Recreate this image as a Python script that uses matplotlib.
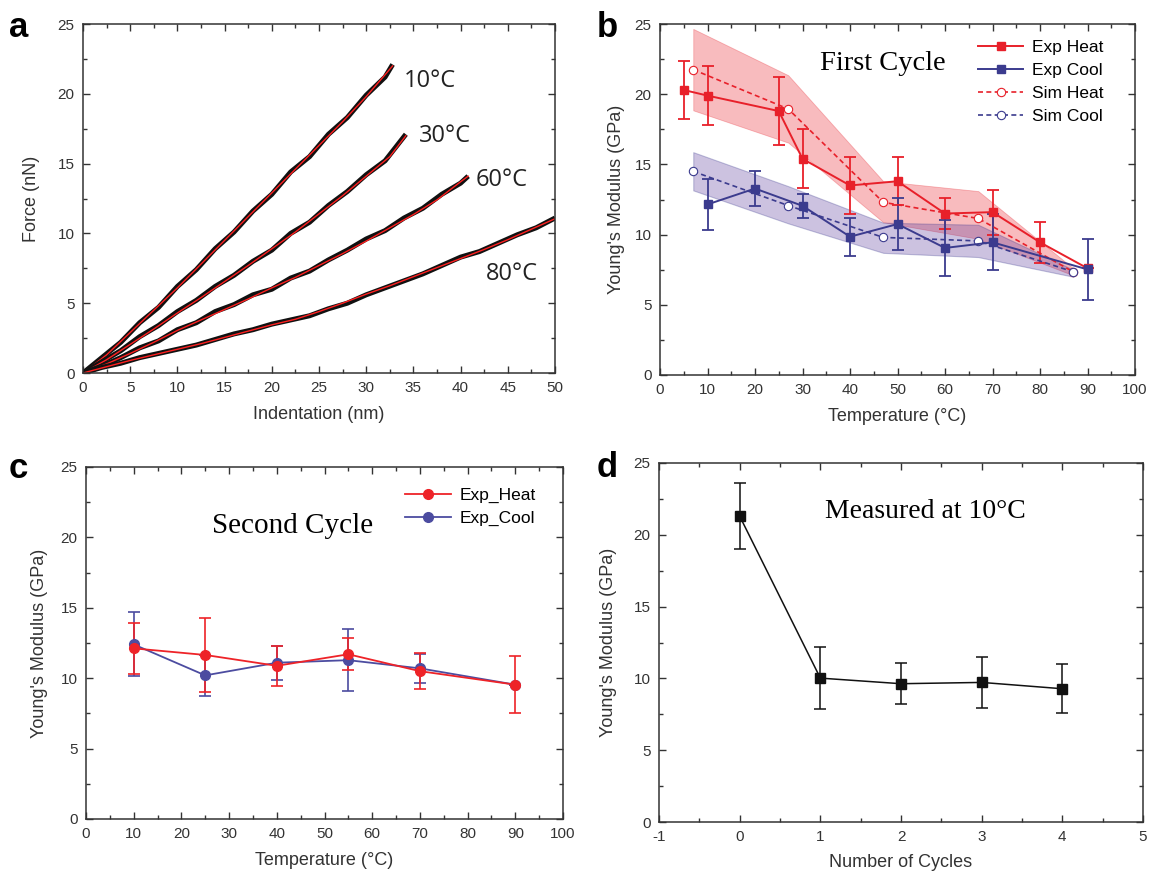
import numpy as np
import matplotlib
matplotlib.use('Agg')
import matplotlib.pyplot as plt
from matplotlib.ticker import MultipleLocator
from matplotlib.lines import Line2D

plt.rcParams['font.family'] = ['Liberation Sans', 'DejaVu Sans']
plt.rcParams['axes.unicode_minus'] = False

# ---- panel a: force curves (indentation nm, force nN) ----
x10_data = [0, 2, 4, 6, 8, 10, 12, 14, 16, 18, 20, 22, 24, 26, 28, 30, 32, 32.8]
f10_data = [0, 1.1, 2.2, 3.6, 4.7, 6.2, 7.4, 8.9, 10.1, 11.6, 12.8, 14.4, 15.5, 17.1, 18.3, 19.9, 21.2, 22.1]
x10_fit = [0, 2.5, 5, 7.5, 10, 12.5, 15, 17.5, 20, 22.5, 25, 27.5, 30, 32.8]
f10_fit = [0, 1.3, 2.9, 4.5, 6.1, 7.8, 9.5, 11.2, 12.9, 14.6, 16.3, 18.0, 19.8, 22.0]

x30_data = [0, 2, 4, 6, 8, 10, 12, 14, 16, 18, 20, 22, 24, 26, 28, 30, 32, 34.2]
f30_data = [0, 0.8, 1.6, 2.6, 3.4, 4.4, 5.2, 6.2, 7.0, 8.0, 8.8, 10.0, 10.8, 12.0, 13.0, 14.2, 15.2, 17.1]
x30_fit = [0, 2.5, 5, 7.5, 10, 12.5, 15, 17.5, 20, 22.5, 25, 27.5, 30, 32.5, 34.2]
f30_fit = [0, 0.95, 2.05, 3.15, 4.3, 5.4, 6.55, 7.7, 8.9, 10.1, 11.4, 12.7, 14.1, 15.5, 17.0]

x60_data = [0, 2, 4, 6, 8, 10, 12, 14, 16, 18, 20, 22, 24, 26, 28, 30, 32, 34, 36, 38, 40, 40.8]
f60_data = [0, 0.5, 1.1, 1.8, 2.3, 3.1, 3.6, 4.4, 4.9, 5.6, 6.0, 6.8, 7.3, 8.1, 8.8, 9.6, 10.2, 11.1, 11.8, 12.8, 13.6, 14.1]
x60_fit = [0, 2.5, 5, 7.5, 10, 12.5, 15, 17.5, 20, 22.5, 25, 27.5, 30, 32.5, 35, 37.5, 40, 40.8]
f60_fit = [0, 0.65, 1.4, 2.2, 3.05, 3.8, 4.55, 5.3, 6.1, 6.85, 7.7, 8.55, 9.45, 10.4, 11.35, 12.4, 13.7, 14.1]

x80_data = [0, 2, 4, 6, 8, 10, 12, 14, 16, 18, 20, 22, 24, 26, 28, 30, 32, 34, 36, 38, 40, 42, 44, 46, 48, 50]
f80_data = [0, 0.4, 0.7, 1.1, 1.4, 1.7, 2.0, 2.4, 2.8, 3.1, 3.5, 3.8, 4.1, 4.6, 5.0, 5.6, 6.1, 6.6, 7.1, 7.7, 8.3, 8.7, 9.3, 9.9, 10.4, 11.1]
x80_fit = [0, 2.5, 5, 7.5, 10, 12.5, 15, 17.5, 20, 22.5, 25, 27.5, 30, 32.5, 35, 37.5, 40, 42.5, 45, 47.5, 50]
f80_fit = [0, 0.45, 0.9, 1.3, 1.7, 2.1, 2.55, 3.0, 3.45, 3.85, 4.4, 5.0, 5.65, 6.25, 6.9, 7.55, 8.2, 8.85, 9.55, 10.3, 11.05]

curve_labels = ['10°C', '30°C', '60°C', '80°C']

# ---- panel b: first cycle ----
exp_heat_T = [5, 10, 25, 30, 40, 50, 60, 70, 80, 90]
exp_heat_E = [20.3, 19.9, 18.8, 15.4, 13.5, 13.8, 11.5, 11.6, 9.45, 7.6]
exp_heat_err = [2.1, 2.1, 2.45, 2.1, 2.0, 1.7, 1.1, 1.6, 1.45, 0]
exp_cool_T = [10, 20, 30, 40, 50, 60, 70, 90]
exp_cool_E = [12.15, 13.28, 12.05, 9.85, 10.75, 9.05, 9.45, 7.52]
exp_cool_err = [1.8, 1.22, 0.85, 1.35, 1.85, 1.98, 2.0, 2.17]
sim_T = [7, 27, 47, 67, 87]
sim_heat_E = [21.75, 18.95, 12.3, 11.15, 7.35]
sim_heat_hi = [24.65, 21.35, 13.8, 13.1, 7.6]
sim_heat_lo = [18.85, 16.55, 10.88, 9.7, 7.1]
sim_cool_E = [14.5, 12.07, 9.8, 9.55, 7.35]
sim_cool_hi = [15.87, 13.45, 10.85, 10.7, 7.5]
sim_cool_lo = [13.15, 10.8, 8.7, 8.4, 7.0]

# ---- panel c: second cycle ----
c_T = [10, 25, 40, 55, 70, 90]
c_heat_E = [12.12, 11.65, 10.88, 11.7, 10.5, 9.54]
c_heat_err = [1.8, 2.6, 1.4, 1.15, 1.3, 2.03]
c_cool_E = [12.4, 10.2, 11.1, 11.28, 10.7, 9.54]
c_cool_err = [2.27, 1.45, 1.2, 2.22, 1.03, 0]

# ---- panel d: cycles at 10C ----
cycles = [0, 1, 2, 3, 4]
d_E = [21.3, 10.02, 9.63, 9.72, 9.28]
d_err = [2.28, 2.15, 1.44, 1.8, 1.7]

RED = '#e8202a'
NAVY = '#3b3b8e'
W, H = 1149, 877


def rect(l, r, t, b):
    return [l / W, 1 - b / H, (r - l) / W, (b - t) / H]


def style_axes(ax, xmaj, xmin, ymaj, ymin):
    ax.xaxis.set_major_locator(MultipleLocator(xmaj))
    ax.xaxis.set_minor_locator(MultipleLocator(xmin))
    ax.yaxis.set_major_locator(MultipleLocator(ymaj))
    ax.yaxis.set_minor_locator(MultipleLocator(ymin))
    ax.tick_params(which='both', direction='in', top=True, right=True,
                   width=1.0, colors='#333333', labelsize=11, pad=6)
    ax.tick_params(which='major', length=5)
    ax.tick_params(which='minor', length=3)
    for sp in ax.spines.values():
        sp.set_linewidth(1.1)
        sp.set_color('#333333')


fig = plt.figure(figsize=(W / 100, H / 100), dpi=100)

# panel a
ax = fig.add_axes(rect(83, 555, 24, 373))
for xd, fd, xf, ff in [(x10_data, f10_data, x10_fit, f10_fit),
                       (x30_data, f30_data, x30_fit, f30_fit),
                       (x60_data, f60_data, x60_fit, f60_fit),
                       (x80_data, f80_data, x80_fit, f80_fit)]:
    ax.plot(xd, fd, color='#111111', lw=3.6, solid_capstyle='butt')
    ax.plot(xf, ff, color='#ff2020', lw=1.0)
lab_pos = [(34.0, 20.9), (35.6, 17.0), (41.6, 13.8), (42.7, 7.1)]
for lab, (tx, ty) in zip(curve_labels, lab_pos):
    ax.text(tx, ty, lab, fontsize=17, family=['Open Sans', 'DejaVu Sans'],
            va='center', ha='left', color='#222222')
ax.set_xlim(0, 50)
ax.set_ylim(0, 25)
style_axes(ax, 5, 2.5, 5, 2.5)
ax.set_xlabel('Indentation (nm)', fontsize=13, labelpad=8, color='#333333')
ax.set_ylabel('Force (nN)', fontsize=13, labelpad=13, color='#333333')

# panel b
ax = fig.add_axes(rect(660, 1135, 24, 375))
ax.fill_between(sim_T, sim_heat_lo, sim_heat_hi, facecolor=RED, alpha=0.3,
                edgecolor=RED, linewidth=0.6)
ax.fill_between(sim_T, sim_cool_lo, sim_cool_hi, facecolor='#58379b', alpha=0.3,
                edgecolor=NAVY, linewidth=0.8)
ax.errorbar(exp_heat_T, exp_heat_E, yerr=exp_heat_err, color=RED, marker='s',
            ms=6, lw=1.4, capsize=4, elinewidth=1.3, capthick=1.3)
ax.errorbar(exp_cool_T, exp_cool_E, yerr=exp_cool_err, color=NAVY, marker='s',
            ms=6, lw=1.4, capsize=4, elinewidth=1.3, capthick=1.3)
ax.plot(sim_T, sim_heat_E, color=RED, ls=(0, (3, 2)), lw=1.2, marker='o', ms=6,
        mfc='white', mec=RED, mew=0.8)
ax.plot(sim_T, sim_cool_E, color=NAVY, ls=(0, (3, 2)), lw=1.2, marker='o', ms=6,
        mfc='white', mec=NAVY, mew=0.8)
ax.text(47, 22.2, 'First Cycle', fontsize=20.5,
        family=['Liberation Serif', 'DejaVu Serif'], ha='center', va='center')
b_handles = [
    Line2D([], [], color=RED, marker='s', ms=6, lw=1.4),
    Line2D([], [], color=NAVY, marker='s', ms=6, lw=1.4),
    Line2D([], [], color=RED, ls=(0, (3, 2)), lw=1.2, marker='o', ms=6, mfc='white', mec=RED, mew=0.8),
    Line2D([], [], color=NAVY, ls=(0, (3, 2)), lw=1.2, marker='o', ms=6, mfc='white', mec=NAVY, mew=0.8),
]
ax.legend(b_handles, ['Exp Heat', 'Exp Cool', 'Sim Heat', 'Sim Cool'],
          loc='upper left', bbox_to_anchor=(0.655, 0.975), frameon=False,
          fontsize=12.5, handlelength=2.6, labelspacing=0.45, handletextpad=0.5,
          borderaxespad=0)
ax.set_xlim(0, 100)
ax.set_ylim(0, 25)
style_axes(ax, 10, 5, 5, 2.5)
ax.set_xlabel('Temperature (°C)', fontsize=13, labelpad=8, color='#333333')
ax.set_ylabel("Young's Modulus (GPa)", fontsize=13, labelpad=7, color='#333333')

# panel c
ax = fig.add_axes(rect(86, 563, 467, 819))
ax.errorbar(c_T, c_cool_E, yerr=c_cool_err, color='#4c4ca0', marker='o', ms=7,
            lw=1.3, capsize=4, elinewidth=1.2, capthick=1.2)
ax.errorbar(c_T, c_heat_E, yerr=c_heat_err, color='#ee2328', marker='o', ms=7,
            lw=1.3, capsize=4, elinewidth=1.2, capthick=1.2)
ax.text(43.2, 20.8, 'Second Cycle', fontsize=21,
        family=['Liberation Serif', 'DejaVu Serif'], ha='center', va='center')
c_handles = [Line2D([], [], color='#ee2328', marker='o', ms=7, lw=1.3),
             Line2D([], [], color='#4c4ca0', marker='o', ms=7, lw=1.3)]
ax.legend(c_handles, ['Exp_Heat', 'Exp_Cool'], loc='upper left',
          bbox_to_anchor=(0.655, 0.96), frameon=False, fontsize=12.5,
          handlelength=2.6, labelspacing=0.45, handletextpad=0.5, borderaxespad=0)
ax.set_xlim(0, 100)
ax.set_ylim(0, 25)
style_axes(ax, 10, 5, 5, 2.5)
ax.set_xlabel('Temperature (°C)', fontsize=13, labelpad=8, color='#333333')
ax.set_ylabel("Young's Modulus (GPa)", fontsize=13, labelpad=9, color='#333333')

# panel d
ax = fig.add_axes(rect(659, 1143, 463, 822))
ax.errorbar(cycles, d_E, yerr=d_err, color='#111111', marker='s', ms=6.5,
            lw=1.1, capsize=4, elinewidth=1.1, capthick=1.1)
ax.text(2.3, 21.6, 'Measured at 10°C', fontsize=20,
        family=['Liberation Serif', 'DejaVu Serif'], ha='center', va='center')
ax.set_xlim(-1, 5)
ax.set_ylim(0, 25)
style_axes(ax, 1, 0.5, 5, 2.5)
ax.set_xlabel('Number of Cycles', fontsize=13, labelpad=7, color='#333333')
ax.set_ylabel("Young's Modulus (GPa)", fontsize=13, labelpad=12, color='#333333')

# panel letters
for lx, ly, letter in [(19, 37, 'a'), (607, 37, 'b'), (18, 478, 'c'), (607, 477, 'd')]:
    fig.text(lx / W, 1 - ly / H, letter, fontsize=25, fontweight='bold',
             ha='center', va='baseline')

fig.savefig('out.png', dpi=100)
